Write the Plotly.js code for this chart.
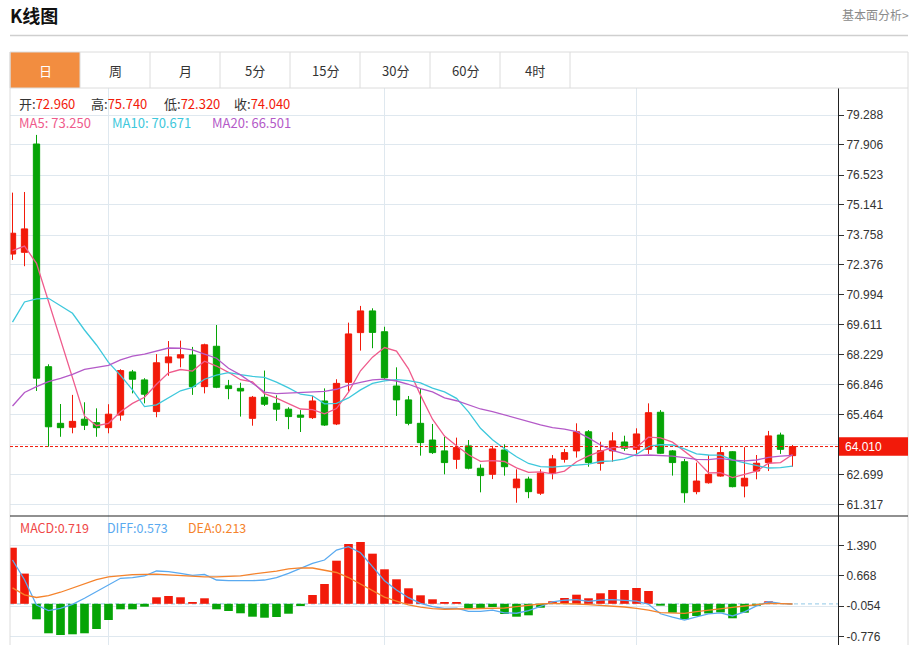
<!DOCTYPE html>
<html><head><meta charset="utf-8">
<script src="https://cdn.plot.ly/plotly-3.0.1.min.js"></script>
<style>html,body{margin:0;padding:0;background:#fff;overflow:hidden}#chart{width:915px;height:645px}</style>
</head><body><div id="chart"></div>
<script>
// ---- data ----
const openP  = [72.88,72.96,77.95,67.69,65.08,64.90,65.27,65.11,64.88,65.46,67.45,67.08,65.62,67.87,68.09,68.23,66.77,68.63,66.81,66.69,65.31,66.28,66.00,65.73,65.46,65.34,66.11,65.05,66.97,69.26,70.26,69.30,66.80,66.16,65.08,64.31,63.81,63.42,64.04,63.01,62.73,63.85,62.11,62.51,61.86,62.78,63.42,63.81,64.69,63.24,63.81,64.22,63.88,63.88,65.59,63.81,63.31,61.93,62.34,62.65,63.77,62.19,62.88,63.27,64.54,63.59];
const highP  = [75.71,75.74,78.37,67.80,65.97,66.39,66.05,65.77,65.96,67.57,67.54,67.16,68.27,68.87,68.89,68.60,68.75,69.61,67.08,66.95,66.34,67.51,66.37,65.82,65.69,66.34,66.69,67.11,69.72,70.49,70.38,69.53,67.66,66.34,66.69,65.05,64.46,64.42,64.31,63.19,64.04,64.11,62.96,62.62,62.96,63.62,63.90,65.08,64.77,64.23,64.67,64.51,64.85,66.00,65.69,63.85,63.44,63.27,63.62,64.04,63.80,63.98,63.62,64.73,64.65,64.08];
const lowP   = [72.61,72.32,66.57,64.00,64.46,64.62,64.77,64.46,64.62,65.20,66.46,66.00,65.36,67.27,67.66,66.39,66.46,66.70,66.19,65.39,64.97,65.88,65.19,64.81,64.68,65.28,64.96,65.00,66.54,68.43,68.54,67.08,65.42,64.99,63.59,63.67,62.73,62.98,62.96,61.90,62.51,62.67,61.42,61.63,61.78,62.50,63.27,63.50,63.08,62.90,63.31,63.81,63.65,63.67,63.67,62.67,61.42,61.81,62.30,62.62,62.13,61.67,62.50,62.88,63.67,63.08];
const closeP = [73.84,74.04,67.16,64.92,64.88,65.17,64.99,64.88,65.50,67.51,67.11,66.42,67.87,68.14,68.24,66.77,68.70,66.74,66.68,66.57,66.28,65.96,65.73,65.39,65.36,66.11,65.00,66.92,69.20,70.26,69.27,67.18,66.16,65.08,64.19,63.73,63.27,63.96,63.01,62.67,63.90,63.08,62.51,61.93,62.78,63.44,63.73,64.69,63.27,63.82,64.27,63.93,64.59,65.57,63.70,63.27,61.88,62.42,62.73,63.73,62.16,62.55,63.24,64.50,63.88,64.01];
const ma5  = [73.04,73.25,72.45,70.70,68.97,67.23,65.42,64.97,65.08,65.61,66.00,66.28,66.88,67.41,67.56,67.49,67.94,67.72,67.43,67.09,66.99,66.45,66.24,65.99,65.74,65.71,65.52,65.76,66.52,67.50,68.13,68.57,68.41,67.59,66.38,65.27,64.49,64.05,63.63,63.33,63.36,63.32,63.03,62.82,62.84,62.75,62.88,63.31,63.58,63.79,63.96,64.00,63.98,64.44,64.41,64.21,63.80,63.37,62.80,62.81,62.58,62.72,62.88,63.24,63.27,63.64];
const ma10 = [69.74,70.671,70.81,70.84,70.50,70.15,69.38,68.69,67.89,67.29,66.62,65.85,65.93,66.25,66.58,66.74,67.11,67.30,67.42,67.32,67.24,67.20,66.98,66.71,66.42,66.35,65.98,66.00,66.25,66.62,66.92,67.04,67.09,67.05,66.94,66.70,66.53,66.23,65.61,64.85,64.32,63.91,63.54,63.23,63.08,63.06,63.10,63.17,63.20,63.32,63.35,63.44,63.65,64.01,64.10,64.08,63.90,63.67,63.62,63.61,63.40,63.26,63.13,63.02,63.04,63.11];
const ma20 = [65.88,66.501,66.77,67.00,67.15,67.34,67.57,67.66,67.75,68.00,68.18,68.27,68.41,68.55,68.54,68.46,68.27,68.08,67.62,67.31,66.93,66.52,66.45,66.48,66.50,66.55,66.55,66.65,66.84,66.97,67.08,67.12,67.03,66.88,66.68,66.53,66.25,66.12,65.93,65.74,65.62,65.47,65.31,65.14,65.01,64.88,64.81,64.70,64.41,64.08,63.83,63.67,63.59,63.62,63.59,63.57,63.50,63.42,63.41,63.46,63.38,63.35,63.39,63.51,63.57,63.60];
const macdHist = [1.335,0.719,-0.369,-0.702,-0.743,-0.726,-0.702,-0.600,-0.386,-0.131,-0.131,-0.069,0.155,0.186,0.155,0.043,0.131,-0.131,-0.171,-0.226,-0.307,-0.331,-0.314,-0.236,-0.052,0.209,0.471,1.026,1.424,1.471,1.193,0.821,0.583,0.369,0.202,0.107,0.043,0.043,-0.100,-0.107,-0.076,-0.243,-0.307,-0.274,-0.093,0.060,0.138,0.217,0.131,0.250,0.328,0.328,0.376,0.305,-0.045,-0.212,-0.369,-0.290,-0.230,-0.205,-0.345,-0.212,-0.048,0.060,0.005,0.0];
const diffLine = [1.042,0.573,-0.029,-0.164,-0.107,-0.012,0.131,0.288,0.447,0.607,0.621,0.662,0.781,0.764,0.726,0.678,0.702,0.566,0.550,0.543,0.550,0.566,0.621,0.726,0.845,0.964,1.042,1.280,1.359,1.216,0.883,0.550,0.328,0.145,0.012,-0.069,-0.107,-0.103,-0.180,-0.180,-0.150,-0.215,-0.225,-0.160,-0.060,0.045,0.085,0.098,0.060,0.090,0.098,0.080,0.065,-0.010,-0.237,-0.320,-0.390,-0.310,-0.240,-0.215,-0.290,-0.190,-0.050,0.048,0.010,-0.005];
const deaLine  = [0.380,0.213,0.150,0.195,0.275,0.370,0.475,0.575,0.642,0.675,0.695,0.700,0.706,0.690,0.668,0.660,0.640,0.640,0.650,0.665,0.707,0.740,0.780,0.830,0.855,0.852,0.805,0.745,0.625,0.475,0.305,0.160,0.065,-0.025,-0.080,-0.115,-0.130,-0.124,-0.132,-0.124,-0.116,-0.100,-0.068,-0.029,-0.005,0.011,0.011,-0.005,-0.021,-0.037,-0.060,-0.076,-0.108,-0.148,-0.211,-0.227,-0.227,-0.187,-0.148,-0.116,-0.084,-0.052,-0.013,0.011,0.003,-0.005];
const priceTicks = [79.288,77.906,76.523,75.141,73.758,72.376,70.994,69.611,68.229,66.846,65.464,64.082,62.699,61.317];
const macdTicks  = [1.390,0.668,-0.054,-0.776];
const monthBreaks = [8,31,52];
const lastPrice = 64.010;
const infoIndex = 1;
const tabs = ['日','周','月','5分','15分','30分','60分','4时'];

// ---- styling ----
const RED='#f21a0a', GREEN='#06a406', GRID='#dfe8ef', BORDER='#dcdcdc';
const C_MA5='#ef5b8c', C_MA10='#3ec8dc', C_MA20='#b45ac8';
const C_MACD='#ef4747', C_DIFF='#5aaaf0', C_DEA='#f5832c';
const CJK="'Noto Sans CJK SC', 'Noto Sans', sans-serif";
const L=10,R=838,T=88,B=645;
const px = x => (x-L)/(R-L);
const py = y => (B-y)/(B-T);
const split = py(516);
const xs = closeP.map((_,i)=>i);

const traces = [
  {type:'candlestick', x:xs, open:openP, high:highP, low:lowP, close:closeP,
   xaxis:'x', yaxis:'y', whiskerwidth:0, hoverinfo:'none',
   increasing:{line:{color:RED,width:1}, fillcolor:RED},
   decreasing:{line:{color:GREEN,width:1}, fillcolor:GREEN}},
  {type:'scatter', mode:'lines', x:xs, y:ma5,  xaxis:'x', yaxis:'y', line:{color:C_MA5,width:1.3}, hoverinfo:'skip'},
  {type:'scatter', mode:'lines', x:xs, y:ma10, xaxis:'x', yaxis:'y', line:{color:C_MA10,width:1.3}, hoverinfo:'skip'},
  {type:'scatter', mode:'lines', x:xs, y:ma20, xaxis:'x', yaxis:'y', line:{color:C_MA20,width:1.3}, hoverinfo:'skip'},
  {type:'bar', x:xs, y:macdHist, xaxis:'x2', yaxis:'y2', width:0.72,
   marker:{color:macdHist.map(v=>v>=0?RED:GREEN), line:{width:0}}, hoverinfo:'skip'},
  {type:'scatter', mode:'lines', x:xs, y:diffLine, xaxis:'x2', yaxis:'y2', line:{color:C_DIFF,width:1.3}, hoverinfo:'skip'},
  {type:'scatter', mode:'lines', x:xs, y:deaLine,  xaxis:'x2', yaxis:'y2', line:{color:C_DEA,width:1.3}, hoverinfo:'skip'}
];

const xr = [(L-12.5)/12, (R-12.5)/12];
const xax = {range:xr, showticklabels:false, ticks:'', tickvals:monthBreaks, showgrid:true, gridcolor:GRID, gridwidth:1, zeroline:false, showline:false, fixedrange:true};
const yfont = {family:"'Liberation Sans', Arial, sans-serif", size:12, color:'#333'};

const shapes = [];
const ln = (x0,y0,x1,y1,color,width,extra) => shapes.push(Object.assign({type:'line', xref:'paper', yref:'paper', x0:px(x0), x1:px(x1), y0:py(y0), y1:py(y1), line:{color:color,width:width}}, extra||{}));
// title underline
ln(10,35.5,908,35.5,'#cfcfcf',1.5);
// tab bar
shapes.push({type:'rect', xref:'paper', yref:'paper', x0:px(10), x1:px(80), y0:py(88), y1:py(52), fillcolor:'#f28d40', line:{width:0}});
ln(10,52,908,52,BORDER,1);
ln(10,88,908,88,BORDER,1);
for (let k=0;k<=tabs.length;k++) ln(10+70*k,52,10+70*k,88,BORDER,1);
// panel borders
ln(10,52,10,645,BORDER,1);
ln(908,52,908,645,BORDER,1);
// separator between price and MACD
ln(10,516,908,516,'#222',1.2);
// current price line and label box (box height ~19px = 0.43 price units each side)
shapes.push({type:'line', xref:'paper', yref:'y', x0:0, x1:1, y0:lastPrice, y1:lastPrice, line:{color:RED,width:1,dash:'3px,2px'}});
shapes.push({type:'rect', xref:'paper', yref:'y', x0:px(839), x1:px(908), y0:lastPrice-0.43, y1:lastPrice+0.43, fillcolor:RED, line:{width:0}});
// MACD zero line
shapes.push({type:'line', xref:'paper', yref:'y2', x0:0, x1:1, y0:0, y1:0, layer:'between', line:{color:'#a8d4ec',width:1.2,dash:'4px,3px'}});

const anns = [];
const txt = (x,y,text,opts) => anns.push(Object.assign({xref:'paper', yref:'paper', x:px(x), y:py(y), text:text, showarrow:false, xanchor:'left', yanchor:'middle', font:{family:CJK,size:13,color:'#333'}}, opts||{}));
txt(8,15,'<b>K线图</b>',{font:{family:CJK,size:18,color:'#111'}});
txt(911,14,'基本面分析>',{xanchor:'right', font:{family:CJK,size:12,color:'#8a8a8a'}});
tabs.forEach((t,k)=>txt(45+70*k,70,t,{xanchor:'center', font:{family:CJK,size:13,color:k===0?'#ffffff':'#333'}}));
const f3 = v => v.toFixed(3);
const sp = (c,t) => "<span style='color:"+c+"'>"+t+"</span>";
txt(17,104,'开:'+sp(RED,f3(openP[infoIndex])));
txt(89,104,'高:'+sp(RED,f3(highP[infoIndex])));
txt(162,104,'低:'+sp(RED,f3(lowP[infoIndex])));
txt(232,104,'收:'+sp(RED,f3(closeP[infoIndex])));
txt(17,122,'MA5: '+f3(ma5[infoIndex]),{font:{family:CJK,size:13,color:C_MA5}});
txt(110,122,'MA10: '+f3(ma10[infoIndex]),{font:{family:CJK,size:13,color:C_MA10}});
txt(210,122,'MA20: '+f3(ma20[infoIndex]),{font:{family:CJK,size:13,color:C_MA20}});
txt(18,527,'MACD:'+f3(macdHist[infoIndex]),{font:{family:CJK,size:12.5,color:C_MACD}});
txt(105,527,'DIFF:'+f3(diffLine[infoIndex]),{font:{family:CJK,size:12.5,color:C_DIFF}});
txt(186,527,'DEA:'+f3(deaLine[infoIndex]),{font:{family:CJK,size:12.5,color:C_DEA}});
anns.push({xref:'paper', yref:'y', x:px(843), y:lastPrice, text:f3(lastPrice), showarrow:false, xanchor:'left', yanchor:'middle', font:{family:"'Liberation Sans', Arial, sans-serif", size:12, color:'#fff'}});

const layout = {
  width:915, height:645, margin:{l:L, r:915-R, t:T, b:0}, paper_bgcolor:'#fff', plot_bgcolor:'#fff',
  showlegend:false, boxgap:0.25, bargap:0.2, dragmode:false, hovermode:false,
  xaxis:Object.assign({anchor:'y', rangeslider:{visible:false}}, xax),
  xaxis2:Object.assign({anchor:'y2', matches:'x'}, xax),
  yaxis:{domain:[split,1], anchor:'x', side:'right', range:[60.809,80.532], tickvals:priceTicks,
         ticktext:priceTicks.map(v=>Math.abs(v-lastPrice)<0.2?'':f3(v)), ticks:'outside', ticklen:5, tickcolor:'#333',
         tickfont:yfont, showgrid:true, gridcolor:GRID, zeroline:false, showline:true, linecolor:'#222', linewidth:1, fixedrange:true},
  yaxis2:{domain:[0,split], anchor:'x2', side:'right', range:[-0.9806,2.0896], tickvals:macdTicks,
         ticktext:macdTicks.map(f3), ticks:'outside', ticklen:5, tickcolor:'#333',
         tickfont:yfont, showgrid:true, gridcolor:GRID, zeroline:false, showline:true, linecolor:'#222', linewidth:1, fixedrange:true},
  shapes:shapes, annotations:anns
};
Plotly.newPlot('chart', traces, layout, {displayModeBar:false, staticPlot:true});
</script></body></html>
